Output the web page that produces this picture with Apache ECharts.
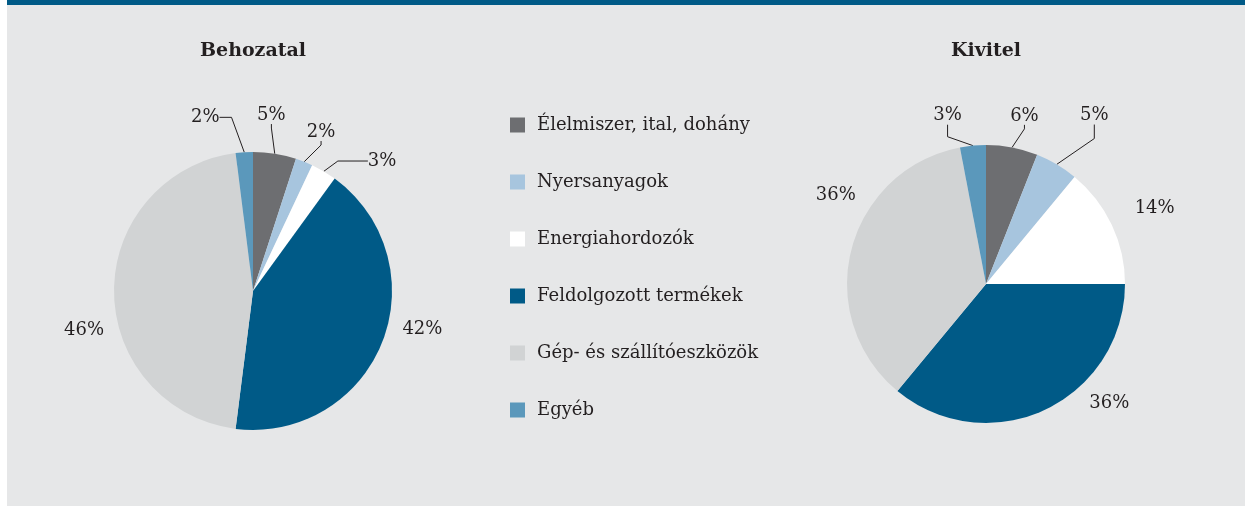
<!DOCTYPE html>
<html>
<head>
<meta charset="utf-8">
<script src="https://cdn.jsdelivr.net/npm/echarts@6/dist/echarts.min.js"></script>
<style>
  body { margin: 0; background: #ffffff; }
  #panel { position: absolute; left: 7px; top: 0; width: 1238px; height: 506px; background: #e6e7e8; border-top: 5px solid #005a87; box-sizing: border-box; }
  #chart { position: absolute; left: 0; top: 0; width: 1245px; height: 506px; }
</style>
</head>
<body>
<div id="panel"></div>
<div id="chart"></div>
<script>
// kategóriák és értékek (%)
var categories = ['Élelmiszer, ital, dohány', 'Nyersanyagok', 'Energiahordozók', 'Feldolgozott termékek', 'Gép- és szállítóeszközök', 'Egyéb'];
var importValues = [5, 2, 3, 42, 46, 2];   // Behozatal
var exportValues = [6, 5, 14, 36, 36, 3];  // Kivitel
var pieTitles = ['Behozatal', 'Kivitel'];

var colors = ['#6d6e71', '#a7c5de', '#ffffff', '#005a87', '#d1d3d4', '#5b98bb'];
var font = 'DejaVu Serif';
var txt = '#231f20';

// címke vonalak szeletenként
var importLines = [
  { length: 28, length2: 4 },
  { length: 18, length2: 4 },
  { length: 12, length2: 30 },
  { show: false, length: 12, length2: 4 },
  { show: false, length: 12, length2: 4 },
  { length: 28, length2: 12 }
];
var exportLines = [
  { length: 22, length2: 4 },
  { length: 30, length2: 14 },
  { show: false, length: 12, length2: 4 },
  { show: false, length: 12, length2: 4 },
  { show: false, length: 12, length2: 4 },
  { length: 22, length2: 12 }
];
// címkék finom eltolása (px)
var importShift = [[-31, -11], [-13, -13], [3, 0], [0, -17], [11, 39], [-6, -7]];
var exportShift = [[-15, -10], [-11, -23], [3, -11], [30, -17], [25, -51], [8, -8]];

function buildData(values, lines) {
  var res = [];
  for (var i = 0; i < values.length; i++) {
    res.push({ name: categories[i], value: values[i], labelLine: lines[i] });
  }
  return res;
}

function pieSeries(name, values, lines, shift, center) {
  return {
    name: name,
    type: 'pie',
    radius: 139,
    center: center,
    startAngle: 90,
    clockwise: true,
    avoidLabelOverlap: false,
    label: {
      show: true,
      position: 'outside',
      formatter: function (p) { return p.value + '%'; },
      fontFamily: font,
      fontSize: 18,
      color: txt
    },
    labelLine: {
      show: true,
      lineStyle: { color: txt, width: 1 }
    },
    labelLayout: function (p) {
      var s = shift[p.dataIndex];
      return {
        x: p.labelRect.x + s[0],
        y: p.labelRect.y + s[1],
        align: 'left',
        verticalAlign: 'top'
      };
    },
    emphasis: { disabled: true },
    data: buildData(values, lines)
  };
}

var chart = echarts.init(document.getElementById('chart'));
var option = {
  animation: false,
  color: colors,
  graphic: [
    { type: 'text', x: 253, y: 51, style: { text: pieTitles[0], font: 'bold 19px "DejaVu Serif"', fill: txt, textAlign: 'center', textVerticalAlign: 'middle' } },
    { type: 'text', x: 986, y: 51, style: { text: pieTitles[1], font: 'bold 19px "DejaVu Serif"', fill: txt, textAlign: 'center', textVerticalAlign: 'middle' } }
  ],
  legend: {
    orient: 'vertical',
    left: 505,
    top: 111,
    icon: 'rect',
    itemWidth: 15,
    itemHeight: 15,
    itemGap: 39,
    selectedMode: false,
    textStyle: { fontFamily: font, fontSize: 18, color: txt, padding: [0, 0, 0, 7] },
    data: categories
  },
  series: [
    pieSeries(pieTitles[0], importValues, importLines, importShift, [253, 291]),
    pieSeries(pieTitles[1], exportValues, exportLines, exportShift, [986, 284])
  ]
};
chart.setOption(option);
</script>
</body>
</html>
